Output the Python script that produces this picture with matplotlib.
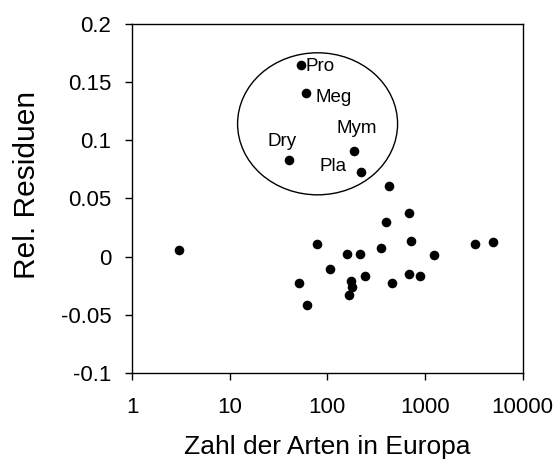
import matplotlib
matplotlib.use("Agg")
import matplotlib.pyplot as plt
from matplotlib.patches import Ellipse

plt.rcParams['font.family'] = ['Liberation Sans', 'DejaVu Sans']

# Data
species_x = [53.3, 60, 187, 40.7, 222, 427, 689, 398, 3.0, 77.7, 717, 3266, 4954,
             356, 160, 214, 1242, 106, 244, 689, 881, 51.2, 173, 180, 455, 166, 61.4]
residuals = [0.1647, 0.1409, 0.0905, 0.0831, 0.073, 0.0604, 0.0378, 0.030, 0.006,
             0.0112, 0.0137, 0.0112, 0.0126, 0.0075, 0.0026, 0.0026, 0.0011, -0.0103,
             -0.0166, -0.0152, -0.0166, -0.0229, -0.0212, -0.0264, -0.0229, -0.0329, -0.0418]

label_names = ["Pro", "Meg", "Mym", "Dry", "Pla"]
label_x = [60, 76, 124, 24.3, 84]
label_y = [0.1635, 0.1366, 0.1106, 0.0991, 0.0776]

xticks = [1, 10, 100, 1000, 10000]
xticklabels = ["1", "10", "100", "1000", "10000"]
yticks = [-0.1, -0.05, 0, 0.05, 0.1, 0.15, 0.2]
yticklabels = ["-0.1", "-0.05", "0", "0.05", "0.1", "0.15", "0.2"]

fig = plt.figure(figsize=(5.58, 4.61), dpi=100)
ax = fig.add_axes([132/558, 1-373/461, 390.7/558, 349/461])

ax.scatter(species_x, residuals, s=48, color='black', zorder=3, linewidths=0)
for name, lx, ly in zip(label_names, label_x, label_y):
    ax.text(lx, ly, name, fontsize=13.5, va='center', ha='left')

ax.add_patch(Ellipse((0.475, 0.714), 0.4095, 0.407, transform=ax.transAxes,
                     fill=False, edgecolor='black', linewidth=1.0))

ax.set_xscale('log')
ax.set_xlim(1, 10000)
ax.set_ylim(-0.1, 0.2)
ax.set_xticks(xticks)
ax.set_xticklabels(xticklabels)
ax.set_yticks(yticks)
ax.set_yticklabels(yticklabels)
ax.minorticks_off()
ax.tick_params(axis='both', direction='out', length=5, width=1, labelsize=16, pad=10)
ax.tick_params(axis='x', pad=12)

for s in ax.spines.values():
    s.set_linewidth(1.0)
    s.set_color('black')

ax.set_xlabel("Zahl der Arten in Europa", fontsize=19)
ax.set_ylabel("Rel. Residuen", fontsize=21.5)
ax.xaxis.set_label_coords(0.5, -0.178)
ax.yaxis.set_label_coords(-0.233, 0.539)

fig.savefig("out.png", dpi=100)
